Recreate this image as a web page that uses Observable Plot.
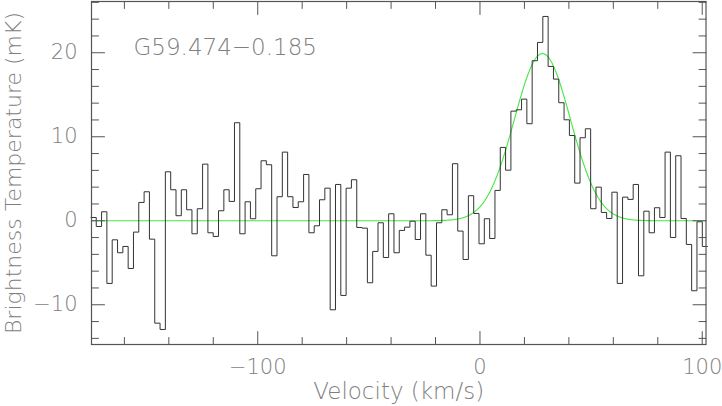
<!DOCTYPE html>
<html><head><meta charset="utf-8">
<script src="https://cdn.jsdelivr.net/npm/d3@7"></script>
<script src="https://cdn.jsdelivr.net/npm/@observablehq/plot@0.6"></script>
<style>
body{margin:0;background:#fff}
#chart svg{display:block}
</style>
</head><body><div id="chart"></div>
<script>
// Channel centre velocities (km/s)
const velocity = [
-173.85,-171.46,-169.07,-166.68,-164.29,-161.89,-159.50,-157.11,-154.72,-152.33,
-149.93,-147.54,-145.15,-142.76,-140.37,-137.97,-135.58,-133.19,-130.80,-128.41,
-126.01,-123.62,-121.23,-118.84,-116.45,-114.05,-111.66,-109.27,-106.88,-104.49,
-102.09,-99.70,-97.31,-94.92,-92.53,-90.13,-87.74,-85.35,-82.96,-80.57,
-78.17,-75.78,-73.39,-71.00,-68.61,-66.21,-63.82,-61.43,-59.04,-56.65,
-54.25,-51.86,-49.47,-47.08,-44.69,-42.29,-39.90,-37.51,-35.12,-32.73,
-30.33,-27.94,-25.55,-23.16,-20.77,-18.37,-15.98,-13.59,-11.20,-8.81,
-6.41,-4.02,-1.63,0.76,3.15,5.55,7.94,10.33,12.72,15.11,
17.51,19.90,22.29,24.68,27.07,29.47,31.86,34.25,36.64,39.03,
41.43,43.82,46.21,48.60,50.99,53.39,55.78,58.17,60.56,62.95,
65.35,67.74,70.13,72.52,74.91,77.31,79.70,82.09,84.48,86.87,
89.27,91.66,94.05,96.44,98.83,101.23
];
// Brightness temperature (mK)
const temperature = [
0.39,-0.68,1.07,-7.46,-2.27,-3.81,-3.06,-5.68,-1.35,2.18,
3.45,-2.19,-12.19,-12.94,5.83,3.69,0.60,3.69,1.31,-1.55,
1.43,6.74,-1.43,-1.87,1.19,3.69,2.30,11.67,-1.55,2.26,
0.24,3.81,7.14,6.67,-4.17,2.86,8.17,2.86,1.58,2.26,
5.51,-1.43,-0.60,2.50,3.88,-10.60,4.32,-8.89,3.88,4.88,
-0.80,-0.88,-7.38,-3.65,-0.24,-4.37,0.83,-3.81,-1.15,-0.76,
-0.05,-2.23,0.83,-4.10,-7.78,-0.24,1.31,0.71,6.79,-1.23,
-4.61,2.98,0.87,-2.74,0.24,-2.11,3.61,8.73,6.02,13.05,
13.21,14.48,11.55,19.05,21.23,24.32,18.37,16.86,14.05,12.02,
10.15,4.48,9.88,10.95,1.43,4.00,0.99,0.27,3.40,-7.46,
2.81,2.54,4.32,-6.55,1.14,-1.43,1.55,0.39,8.17,-1.99,
7.74,0.27,-2.82,-8.33,-0.12,-3.06
];
const channelWidth = 2.392;
// Gaussian fit parameters
const fitAmplitude = 19.9;   // mK
const fitCenter = 28.1;      // km/s
const fitFWHM = 29.7;        // km/s

const sourceName = "G59.474\u22120.185";
const xLabel = "Velocity (km/s)";
const yLabel = "Brightness Temperature (mK)";
const xMajorTicks = [-100, 0, 100];
const xMinorTicks = [-160, -140, -120, -80, -60, -40, -20, 20, 40, 60, 80];
const yMajorTicks = [-10, 0, 10, 20];
const yMinorTicks = [-14, -12, -8, -6, -4, -2, 2, 4, 6, 8, 12, 14, 16, 18, 22, 24, 26];

const xDomain = [-174.8, 101.7];
const yDomain = [-14.73, 26.1];

// step outline built from channel edges
const spectrum = velocity.map((v, i) => ({x: v - channelWidth / 2, t: temperature[i]}));
spectrum.push({x: velocity[velocity.length - 1] + channelWidth / 2, t: temperature[temperature.length - 1]});

const sigma = fitFWHM / (2 * Math.sqrt(2 * Math.log(2)));
const fit = d3.range(xDomain[0], xDomain[1] + 0.25, 0.25).map(v => ({
  x: v, t: fitAmplitude * Math.exp(-0.5 * ((v - fitCenter) / sigma) ** 2)
}));

const tickShape = {draw(ctx, l) { ctx.moveTo(0, 0); ctx.lineTo(0, -l); }};
const axisColor = "#555";
const textColor = "#808080";
const font = "'DejaVu Sans', sans-serif";

function ticks(values, dim, anchor, rotate, len) {
  const o = {frameAnchor: anchor, rotate, length: len, shape: tickShape, anchor: "start",
    stroke: axisColor, strokeWidth: 1};
  o[dim] = d => d;
  return Plot.vector(values, o);
}

const chart = Plot.plot({
  width: 722,
  height: 406,
  marginLeft: 91,
  marginRight: 16.5,
  marginTop: 1,
  marginBottom: 62,
  style: {fontFamily: font, background: "#fff", overflow: "visible", fontWeight: 200},
  x: {domain: xDomain},
  y: {domain: yDomain},
  marks: [
    Plot.line(fit, {x: "x", y: "t", stroke: "#44e844", strokeWidth: 1.1}),
    Plot.line(spectrum, {x: "x", y: "t", curve: "step-after", stroke: "#333", strokeWidth: 1}),
    Plot.frame({stroke: axisColor, strokeWidth: 1.2}),
    ticks(xMajorTicks, "x", "bottom", 0, 13),
    ticks(xMinorTicks, "x", "bottom", 0, 7),
    ticks(xMajorTicks, "x", "top", 180, 13),
    ticks(xMinorTicks, "x", "top", 180, 7),
    ticks(yMajorTicks, "y", "left", 90, 13),
    ticks(yMinorTicks, "y", "left", 90, 7),
    ticks(yMajorTicks, "y", "right", -90, 13),
    ticks(yMinorTicks, "y", "right", -90, 7),
    Plot.axisX({ticks: xMajorTicks, tickSize: 0, tickPadding: 15, fontSize: 21, fill: textColor,
      tickFormat: d => d < 0 ? "\u2212" + Math.abs(d) : String(d), label: null}),
    Plot.axisY({ticks: yMajorTicks, tickSize: 0, tickPadding: 14, fontSize: 21, fill: textColor,
      tickFormat: d => d < 0 ? "\u2212" + Math.abs(d) : String(d), label: null}),
    Plot.text([xLabel], {frameAnchor: "bottom", textAnchor: "middle", lineAnchor: "middle", dy: 47,
      text: d => d, fontSize: 23, fill: textColor}),
    Plot.text([yLabel], {frameAnchor: "left", textAnchor: "middle", lineAnchor: "middle", dx: -78, rotate: -90,
      text: d => d, fontSize: 22, fill: textColor}),
    Plot.text([sourceName], {frameAnchor: "top-left", textAnchor: "start", lineAnchor: "middle", dx: 42, dy: 46,
      text: d => d, fontSize: 23, fill: textColor})
  ]
});
document.getElementById("chart").append(chart);
</script>
</body></html>
